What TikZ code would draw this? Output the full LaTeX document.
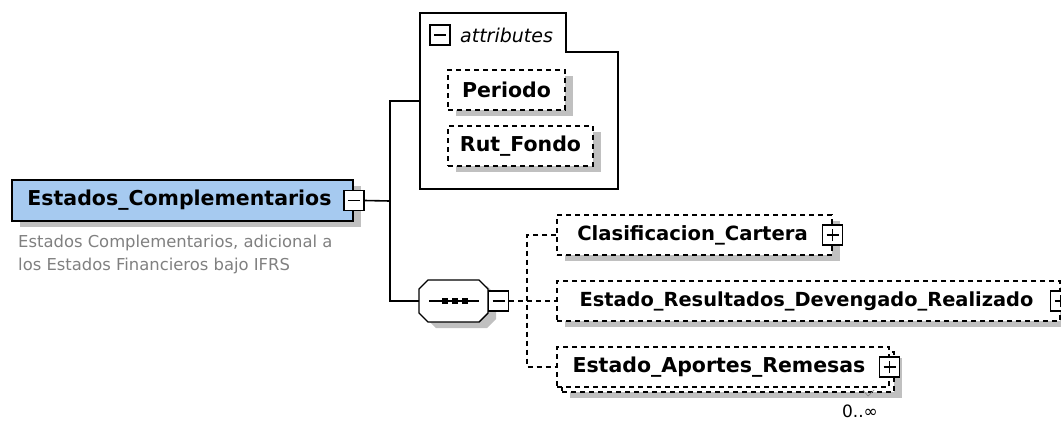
\documentclass[tikz,border=0pt]{standalone}
\usepackage{fontspec}
\setmainfont{DejaVu Sans}
\usetikzlibrary{shadows}
\definecolor{rootblue}{RGB}{166,202,240}
\definecolor{shadegray}{RGB}{192,192,192}

\begin{document}
\begin{tikzpicture}[x=1pt, y=-1pt,
    box/.style={draw, fill=white, line width=1.4pt, minimum height=40, inner sep=0, font=\bfseries\fontsize{20.5}{24}\selectfont},
    shade/.style={drop shadow={shadow xshift=8pt, shadow yshift=-6pt, fill=shadegray, opacity=1}},
    dashbox/.style={box, dash pattern=on 5pt off 4pt},
    minus/.style={draw, fill=white, line width=1.4pt, minimum size=20, inner sep=0,
        path picture={\draw[line width=1.4pt] ([xshift=-6pt]path picture bounding box.center) -- ([xshift=6pt]path picture bounding box.center);}},
    plus/.style={draw, fill=white, line width=1.4pt, minimum size=20, inner sep=0,
        path picture={\draw[line width=1.4pt] ([xshift=-6pt]path picture bounding box.center) -- ([xshift=6pt]path picture bounding box.center);
                      \draw[line width=1.4pt] ([yshift=-6pt]path picture bounding box.center) -- ([yshift=6pt]path picture bounding box.center);}},
    link/.style={line width=1.6pt},
    dlink/.style={line width=1.4pt, dash pattern=on 5pt off 4pt}
]
\useasboundingbox (0,0) rectangle (1061,421);

% Root element
\node[box, shade, fill=rootblue, line width=1.8pt, minimum width=341, minimum height=41] (root) at (182.5,200.5) {Estados\_Complementarios\hspace*{6pt}};
\node[minus] (rootpm) at (root.east) {};
\node[anchor=north west, align=left, text=black!50, inner sep=0, font=\fontsize{16.4}{22.5}\selectfont] (desc) at (18,235)
    {Estados Complementarios, adicional a\\los Estados Financieros bajo IFRS};

% Attributes
\node[minimum width=198, minimum height=176, inner sep=0] (attr) at (519,101) {};
\draw[link] (420,189) -- (420,13) -- (566,13) -- (566,52) -- (618,52) -- (618,189) -- cycle;
\node[minus] (attrpm) at (440,35) {};
\node[anchor=west, inner sep=0, font=\itshape\fontsize{19}{21}\selectfont] (attrlbl) at (460,35) {attributes};
\node[dashbox, shade, minimum width=117] (per) at (506.5,90) {Periodo};
\node[dashbox, shade, minimum width=145] (rut) at (520.5,146) {Rut\_Fondo};

% Sequence
\node[minimum width=69, minimum height=42, inner sep=0] (seq) at (453.5,301) {};
\fill[shadegray, shift={(8,6)}] (428,280) -- (479,280) -- (488,289) -- (488,313) -- (479,322) -- (428,322) -- (419,313) -- (419,289) -- cycle;
\filldraw[fill=white, line width=1.4pt] (428,280) -- (479,280) -- (488,289) -- (488,313) -- (479,322) -- (428,322) -- (419,313) -- (419,289) -- cycle;
\draw[line width=1.4pt] (429,301) -- (479,301);
\foreach \x in {445,455,465}
    \fill (\x-3,298) rectangle (\x+3,304);
\node[minus] (seqpm) at (498.5,301) {};

% Children
\node[dashbox, shade, minimum width=275, font=\bfseries\fontsize{19.6}{24}\selectfont] (clas) at (694.5,235) {Clasificacion\_Cartera\hspace*{4pt}};
\node[plus] (claspm) at (clas.east) {};
\node[dashbox, shade, minimum width=503, font=\bfseries\fontsize{19.4}{24}\selectfont] (res) at (808.5,301) {Estado\_Resultados\_Devengado\_Realizado\hspace*{4pt}};
\node[plus] (respm) at (res.east) {};
\node[dashbox, shade, minimum width=332] (apoback) at (728,372) {};
\node[dashbox, minimum width=332] (apo) at (723,367) {Estado\_Aportes\_Remesas\hspace*{8pt}};
\node[plus] (apopm) at (apo.east) {};
\draw[black!45, line width=0.7pt] (863,390) -- (868,396) -- (874,390);
\node[inner sep=0, font=\fontsize{17}{19}\selectfont] (card) at (860,411) {0..∞};

% Connectors
\coordinate (j) at (390,201);
\draw[link] (rootpm.east) -- (j);
\draw[link] (attr.west) -| (j) |- (seq.west);
\coordinate (k) at (527,301);
\draw[dlink] (seqpm.east) -- (k);
\draw[dlink] (clas.west) -| (k) |- (apo.west);
\draw[dlink] (k) -- (res.west);

\end{tikzpicture}
\end{document}
